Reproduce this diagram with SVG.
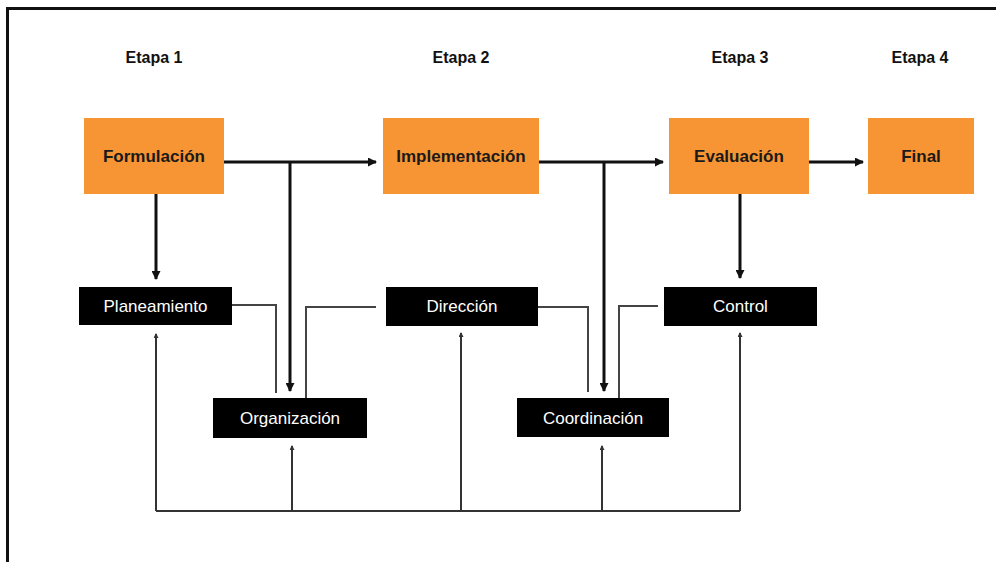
<svg xmlns="http://www.w3.org/2000/svg" width="996" height="562" viewBox="0 0 996 562">
  <defs>
    <style>
      .frame { fill: none; stroke: #111; stroke-width: 3; }
      .stage { font-family: "Liberation Sans", Arial, sans-serif; font-size: 16px; font-weight: bold; fill: #111; text-anchor: middle; }
      .phase rect { fill: #F79433; }
      .phase text { font-family: "Liberation Sans", Arial, sans-serif; font-size: 17px; font-weight: bold; fill: #1a1a1a; text-anchor: middle; }
      .task rect { fill: #000; }
      .task text { font-family: "Liberation Sans", Arial, sans-serif; font-size: 17px; fill: #fff; text-anchor: middle; }
      .main { fill: none; stroke: #111; stroke-width: 3; }
      .link { fill: none; stroke: #444; stroke-width: 2; }
      .fb { fill: none; stroke: #333; stroke-width: 2; }
    </style>
    <marker id="head" markerUnits="userSpaceOnUse" markerWidth="9" markerHeight="9" refX="8" refY="4.5" orient="auto">
      <path d="M0,0 L9,4.5 L0,9 Z" fill="#111"/>
    </marker>
    <marker id="tick" markerUnits="userSpaceOnUse" markerWidth="5" markerHeight="5" refX="4" refY="2.5" orient="auto">
      <path d="M0,0 L5,2.5 L0,5 Z" fill="#333"/>
    </marker>
  </defs>

  <rect width="996" height="562" fill="#fff"/>
  <rect class="frame" x="7.5" y="8.5" width="1000" height="600"/>

  <!-- stage headings -->
  <g id="stages">
    <text class="stage" x="154" y="63">Etapa 1</text>
    <text class="stage" x="461" y="63">Etapa 2</text>
    <text class="stage" x="740" y="63">Etapa 3</text>
    <text class="stage" x="920" y="63">Etapa 4</text>
  </g>

  <!-- connectors -->
  <g id="connectors">
    <path class="main" d="M224,162 H376" marker-end="url(#head)"/>
    <path class="main" d="M290,162 V391" marker-end="url(#head)"/>
    <path class="main" d="M156,194 V279" marker-end="url(#head)"/>
    <path class="main" d="M539,162 H663" marker-end="url(#head)"/>
    <path class="main" d="M604,162 V391" marker-end="url(#head)"/>
    <path class="main" d="M740,194 V278" marker-end="url(#head)"/>
    <path class="main" d="M809,162 H863" marker-end="url(#head)"/>

    <path class="link" d="M232,305 H276 V393"/>
    <path class="link" d="M306,398 V307 H376"/>
    <path class="link" d="M538,307 H588 V392"/>
    <path class="link" d="M619,398 V306 H658"/>

    <path class="fb" d="M156,511 H740"/>
    <path class="fb" d="M156,511 V334" marker-end="url(#tick)"/>
    <path class="fb" d="M292,511 V446" marker-end="url(#tick)"/>
    <path class="fb" d="M461,511 V333" marker-end="url(#tick)"/>
    <path class="fb" d="M602,511 V446" marker-end="url(#tick)"/>
    <path class="fb" d="M740,511 V333" marker-end="url(#tick)"/>
  </g>

  <!-- phase boxes -->
  <g id="formulacion" class="phase">
    <rect x="84" y="118" width="140" height="76"/>
    <text x="154" y="162">Formulación</text>
  </g>
  <g id="implementacion" class="phase">
    <rect x="383" y="118" width="156" height="76"/>
    <text x="461" y="162">Implementación</text>
  </g>
  <g id="evaluacion" class="phase">
    <rect x="669" y="118" width="140" height="76"/>
    <text x="739" y="162">Evaluación</text>
  </g>
  <g id="final" class="phase">
    <rect x="868" y="118" width="106" height="76"/>
    <text x="921" y="162">Final</text>
  </g>

  <!-- task boxes -->
  <g id="planeamiento" class="task">
    <rect x="79" y="287" width="153" height="38"/>
    <text x="155.5" y="312">Planeamiento</text>
  </g>
  <g id="organizacion" class="task">
    <rect x="213" y="398" width="154" height="40"/>
    <text x="290" y="424">Organización</text>
  </g>
  <g id="direccion" class="task">
    <rect x="386" y="287" width="152" height="39"/>
    <text x="462" y="312">Dirección</text>
  </g>
  <g id="coordinacion" class="task">
    <rect x="517" y="398" width="152" height="39"/>
    <text x="593" y="424">Coordinación</text>
  </g>
  <g id="control" class="task">
    <rect x="664" y="287" width="153" height="39"/>
    <text x="740.5" y="312">Control</text>
  </g>
</svg>
